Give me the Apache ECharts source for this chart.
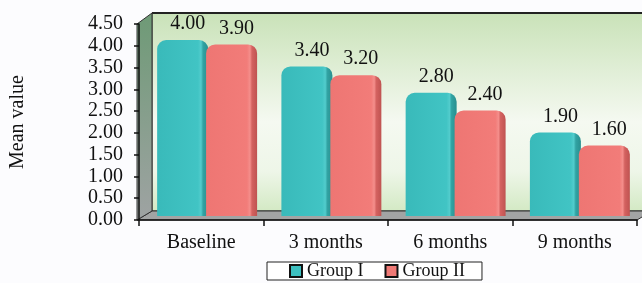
<!DOCTYPE html>
<html><head><meta charset="utf-8">
<script src="https://cdn.jsdelivr.net/npm/echarts@6/dist/echarts.min.js"></script>
<style>html,body{margin:0;padding:0;background:#fcfcfe}#c{width:642px;height:283px}</style>
</head><body><div id="c"></div>
<script>
var categories = ['Baseline', '3 months', '6 months', '9 months'];
var groupI = [4.00, 3.40, 2.80, 1.90];
var groupII = [3.90, 3.20, 2.40, 1.60];
var seriesNames = ['Group I', 'Group II'];
var yMin = 0, yMax = 4.5, yStep = 0.5;

var FONT = '"Liberation Serif", "Times New Roman", serif';
var chart = echarts.init(document.getElementById('c'), null, {renderer: 'canvas'});
function grad(stops) {
  return new echarts.graphic.LinearGradient(0, 0, 1, 0, stops);
}
var tealFill = grad([{offset:0,color:'#39baba'},{offset:0.8,color:'#41c4c4'},{offset:0.86,color:'#52cccc'},{offset:0.9,color:'#31a3a3'},{offset:1,color:'#298f8f'}]);
var redFill = grad([{offset:0,color:'#ee7673'},{offset:0.8,color:'#f27c79'},{offset:0.86,color:'#f48e8b'},{offset:0.9,color:'#d46260'},{offset:1,color:'#bf5351'}]);
var labelStyle = {show:true, position:'top', distance:6, offset:[5,0], color:'#111', fontFamily:FONT, fontSize:20,
  formatter:function(p){return p.value.toFixed(2);}};

chart.setOption({
  animation:false,
  backgroundColor:'#fcfcfe',
  graphic:[
    {type:'rect', z:-10, shape:{x:152,y:13,width:500,height:198},
     style:{fill:new echarts.graphic.LinearGradient(0,0,0,1,[{offset:0,color:'#c9e2b8'},{offset:0.55,color:'#f5f9f1'},{offset:0.8,color:'#eef6e8'},{offset:1,color:'#d3e9c4'}]), stroke:'#222', lineWidth:1}},
    {type:'line', z:-9, shape:{x1:152,y1:13,x2:652,y2:13}, style:{stroke:'#222', lineWidth:2}},
    {type:'polygon', z:-8, shape:{points:[[137,220],[152,211],[652,211],[637,220]]}, style:{fill:'#a2a4a4', stroke:'#333', lineWidth:1}},
    {type:'polygon', z:-8, shape:{points:[[137,24],[152,13],[152,211],[137,220]]},
     style:{fill:new echarts.graphic.LinearGradient(0,0,0,1,[{offset:0,color:'#6e9a76'},{offset:1,color:'#9fa3a3'}]), stroke:'#333', lineWidth:1}}
  ],
  legend:{
    left:267, top:262, padding:[0,17,0,22], itemGap:21, itemWidth:12, itemHeight:12,
    borderColor:'#222', borderWidth:1, backgroundColor:'#ffffff',
    textStyle:{fontFamily:FONT, fontSize:18, color:'#111'},
    data:[
      {name:seriesNames[0], icon:'rect', itemStyle:{color:'#3cc0c0', borderColor:'#111', borderWidth:2}},
      {name:seriesNames[1], icon:'rect', itemStyle:{color:'#f07a76', borderColor:'#111', borderWidth:2}}
    ]
  },
  grid:[
    {left:145, right:-3, top:18, bottom:67},
    {left:137, right:5, top:24, bottom:63}
  ],
  xAxis:[
    {gridIndex:0, type:'category', data:categories, show:false},
    {gridIndex:1, type:'category', data:categories,
     axisLine:{show:true, lineStyle:{color:'#111', width:1.5}},
     axisTick:{show:true, length:6, lineStyle:{color:'#111', width:1.5}},
     axisLabel:{fontFamily:FONT, fontSize:20, color:'#111', margin:13}}
  ],
  yAxis:[
    {gridIndex:0, type:'value', min:yMin, max:yMax, interval:yStep, show:false, splitLine:{show:false}},
    {gridIndex:1, type:'value', min:yMin, max:yMax, interval:yStep,
     name:'Mean value', nameLocation:'middle', nameRotate:90, nameGap:111,
     nameTextStyle:{fontFamily:FONT, fontSize:20, color:'#111'},
     axisLine:{show:true, lineStyle:{color:'#111', width:1.5}},
     axisTick:{show:true, length:5, lineStyle:{color:'#111', width:1.5}},
     splitLine:{show:false},
     axisLabel:{fontFamily:FONT, fontSize:20, color:'#111', margin:16,
       formatter:function(v){return v.toFixed(2);}}}
  ],
  series:[
    {name:seriesNames[0], type:'bar', xAxisIndex:0, yAxisIndex:0, data:groupI, barWidth:51, barGap:'-4%',
     itemStyle:{color:tealFill, borderRadius:[9,9,0,0]}, label:labelStyle},
    {name:seriesNames[1], type:'bar', xAxisIndex:0, yAxisIndex:0, data:groupII, barWidth:51, barGap:'-4%',
     itemStyle:{color:redFill, borderRadius:[9,9,0,0]}, label:labelStyle}
  ]
});
</script></body></html>
